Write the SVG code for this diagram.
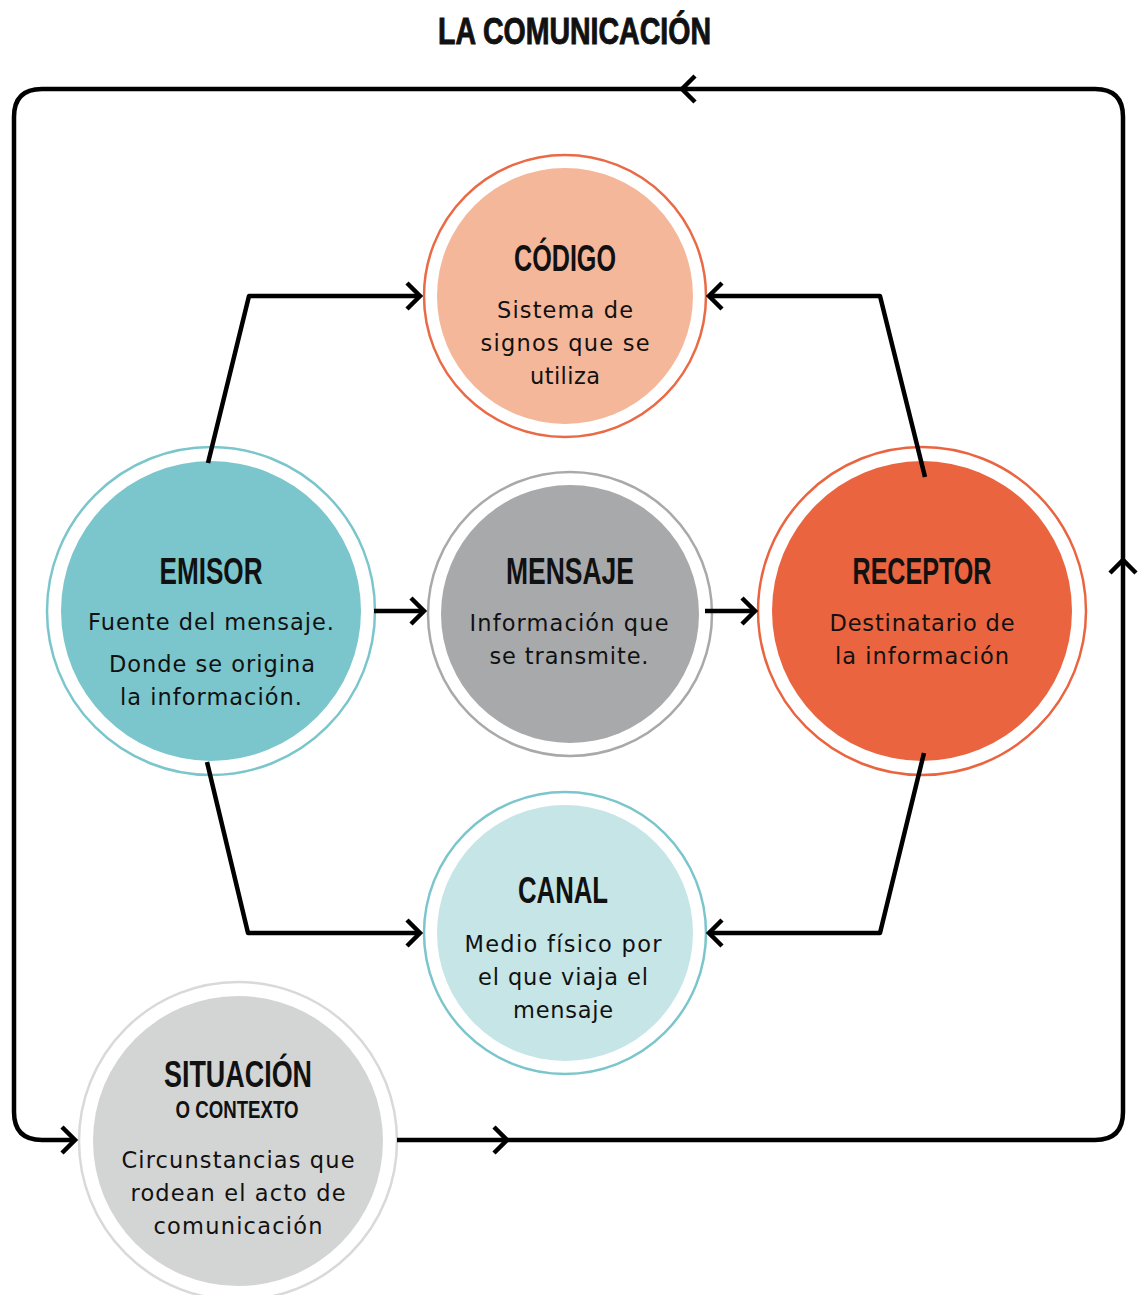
<svg xmlns="http://www.w3.org/2000/svg" xmlns:xlink="http://www.w3.org/1999/xlink" width="1144" height="1295" viewBox="0 0 1144 1295">
<style>
.title{font-family:"Liberation Sans",Arial,sans-serif;font-weight:bold;font-size:36px;fill:#111;stroke:#111;stroke-width:0.9;text-anchor:middle}
.head{font-family:"Liberation Sans",Arial,sans-serif;font-weight:bold;font-size:36px;fill:#111;text-anchor:middle}
.sub{font-family:"Liberation Sans",Arial,sans-serif;font-weight:bold;font-size:23px;fill:#111;text-anchor:middle}
.body{font-family:"DejaVu Sans","Liberation Sans",Arial,sans-serif;font-size:22.5px;fill:#111;text-anchor:middle}
.ring{fill:none;stroke-width:2.5}
.conn{fill:none;stroke:#000;stroke-width:4.5;stroke-linejoin:round;stroke-linecap:butt}
</style>
<defs>
<path id="chev" d="M-13,-13 L0,0 L-13,13" fill="none" stroke="#000" stroke-width="4.5"/>
</defs>
<rect width="1144" height="1295" fill="#fff"/>
<text class="title" x="574.5" y="44" textLength="273" lengthAdjust="spacingAndGlyphs">LA COMUNICACIÓN</text>

<g id="codigo">
<circle class="ring" cx="565" cy="296" r="141" stroke="#EA6A45"/>
<circle cx="565" cy="296" r="128" fill="#F5B79A"/>
<text class="head" x="565" y="271" textLength="102" lengthAdjust="spacingAndGlyphs">CÓDIGO</text>
<text class="body" x="565" y="318" textLength="136">Sistema de</text>
<text class="body" x="565" y="351" textLength="169">signos que se</text>
<text class="body" x="565" y="384" textLength="70">utiliza</text>
</g>

<g id="emisor">
<circle class="ring" cx="211" cy="611" r="164" stroke="#7AC6CC"/>
<circle cx="211" cy="611" r="150" fill="#7AC6CC"/>
<text class="head" x="211" y="584" textLength="103" lengthAdjust="spacingAndGlyphs">EMISOR</text>
<text class="body" x="211" y="630" textLength="246">Fuente del mensaje.</text>
<text class="body" x="212" y="672" textLength="206">Donde se origina</text>
<text class="body" x="211" y="705" textLength="182">la información.</text>
</g>

<g id="mensaje">
<circle class="ring" cx="570" cy="614" r="142" stroke="#A8A9AB"/>
<circle cx="570" cy="614" r="129" fill="#A8A9AB"/>
<text class="head" x="570" y="584" textLength="128" lengthAdjust="spacingAndGlyphs">MENSAJE</text>
<text class="body" x="569" y="631" textLength="199">Información que</text>
<text class="body" x="569" y="664" textLength="159">se transmite.</text>
</g>

<g id="receptor">
<circle class="ring" cx="922" cy="611" r="164" stroke="#EA643F"/>
<circle cx="922" cy="611" r="150" fill="#EA643F"/>
<text class="head" x="922" y="584" textLength="139" lengthAdjust="spacingAndGlyphs">RECEPTOR</text>
<text class="body" x="922" y="631" textLength="185">Destinatario de</text>
<text class="body" x="922" y="664" textLength="174">la información</text>
</g>

<g id="canal">
<circle class="ring" cx="565" cy="933" r="141" stroke="#7AC6CC"/>
<circle cx="565" cy="933" r="128" fill="#C6E5E7"/>
<text class="head" x="563" y="903" textLength="90" lengthAdjust="spacingAndGlyphs">CANAL</text>
<text class="body" x="563" y="952" textLength="197">Medio físico por</text>
<text class="body" x="563" y="985" textLength="170">el que viaja el</text>
<text class="body" x="563" y="1018" textLength="100">mensaje</text>
</g>

<g id="situacion">
<circle class="ring" cx="238" cy="1141" r="159" stroke="#D9D9D9"/>
<circle cx="238" cy="1141" r="145" fill="#D3D4D4"/>
<text class="head" x="238" y="1087" textLength="148" lengthAdjust="spacingAndGlyphs">SITUACIÓN</text>
<text class="sub" x="237" y="1118" textLength="123" lengthAdjust="spacingAndGlyphs">O CONTEXTO</text>
<text class="body" x="238" y="1168" textLength="233">Circunstancias que</text>
<text class="body" x="238" y="1201" textLength="215">rodean el acto de</text>
<text class="body" x="238" y="1234" textLength="169">comunicación</text>
</g>

<g id="connectors">
<path class="conn" d="M208,463 L249,296 L418,296"/>
<use href="#chev" transform="translate(420,296)"/>
<path class="conn" d="M925,477 L880,296 L711,296"/>
<use href="#chev" transform="translate(709,296) rotate(180)"/>
<path class="conn" d="M207,762 L248,933 L418,933"/>
<use href="#chev" transform="translate(420,933)"/>
<path class="conn" d="M924,753 L880,933 L711,933"/>
<use href="#chev" transform="translate(709,933) rotate(180)"/>
<path class="conn" d="M374,611 L422,611"/>
<use href="#chev" transform="translate(424,611)"/>
<path class="conn" d="M705,611 L753,611"/>
<use href="#chev" transform="translate(755,611)"/>
<path class="conn" d="M73,1140 L42,1140 Q14,1140 14,1112 L14,117 Q14,89 42,89 L1095,89 Q1123,89 1123,117 L1123,1112 Q1123,1140 1095,1140 L397,1140"/>
<use href="#chev" transform="translate(75,1140)"/>
<use href="#chev" transform="translate(682,89) rotate(180)"/>
<use href="#chev" transform="translate(1123,560) rotate(-90)"/>
<use href="#chev" transform="translate(507,1140)"/>
</g>
</svg>
